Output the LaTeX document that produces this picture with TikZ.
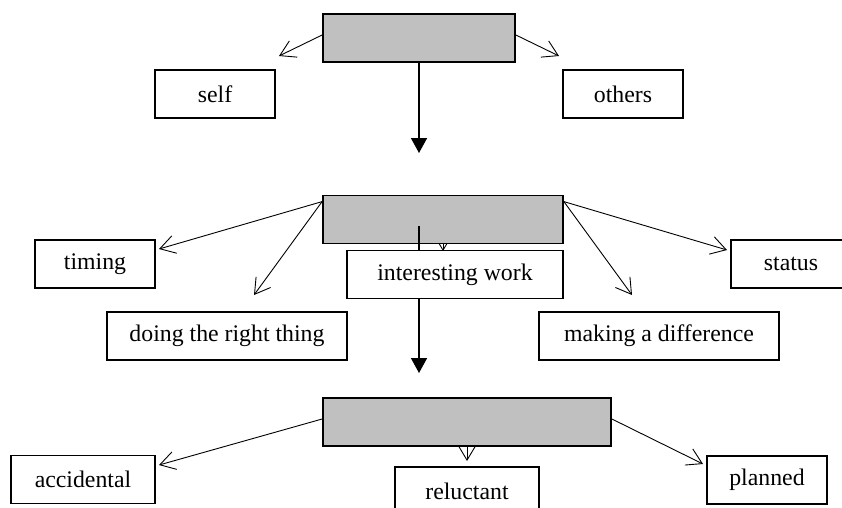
\documentclass[tikz,border=0pt]{standalone}
\usepackage{fontspec}
\setmainfont{Liberation Serif}
\usetikzlibrary{arrows.meta,calc}
\definecolor{hubgray}{RGB}{192,192,192}
\pgfdeclarelayer{paper}
\pgfdeclarelayer{back}
\pgfsetlayers{paper,back,main}
\begin{document}
\begin{tikzpicture}[x=1pt,y=-1pt,
  box/.style={draw=black, line width=1.8pt, fill=white, minimum height=48pt, inner sep=0pt, font=\fontsize{23.8}{28}\selectfont},
  hub/.style={draw=black, line width=1.8pt, fill=hubgray, minimum height=48pt, inner sep=0pt},
  thinarrow/.style={draw=black, line width=0.9pt, -{Straight Barb[length=15pt,width=18pt]}},
  bigarrow/.style={draw=black, line width=1.6pt, -{Triangle[length=15pt,width=16pt]}}
]
\useasboundingbox (0,0) rectangle (842,507);
\clip (0,0) rectangle (842,507);
\begin{pgfonlayer}{paper}
\fill[white] (0,0) rectangle (842,507);
\end{pgfonlayer}

% top level
\node[hub, minimum width=192pt] (top) at (419,38) {};
\node[box, minimum width=120pt] (self) at (215,94) {self};
\node[box, minimum width=120pt] (others) at (623,94) {others};
\coordinate (tl) at (279,56);
\coordinate (tr) at (559,56);
\coordinate (tdown) at (419,153);
\draw[thinarrow] ($(top.west)+(0,-3)$) -- (tl);
\draw[thinarrow] ($(top.east)+(0,-3)$) -- (tr);
\draw[bigarrow] (top.south) -- (tdown);

% middle level
\node[hub, minimum width=240pt] (mid) at (443,219.5) {};
\coordinate (mdownA) at (419,226);
\coordinate (mdownB) at (419,373);
\draw[bigarrow] (mdownA) -- (mdownB);
\node[box, minimum width=120pt] (timing) at (95,264) {timing};
\node[box, minimum width=240pt] (doing) at (227,336) {doing the right thing};
\node[box, minimum width=216pt] (interesting) at (455,274.5) {interesting work};
\node[box, minimum width=120pt] (status) at (791,264) {status};
\node[box, minimum width=240pt] (making) at (659,336) {making a difference};
\coordinate (ml) at ($(mid.north west)+(0,7)$);
\coordinate (mr) at ($(mid.north east)+(0,7)$);
\coordinate (ttiming) at (159,249);
\coordinate (tdoing) at (254,295);
\coordinate (tstatus) at (727,250);
\coordinate (tmaking) at (632,295);
\coordinate (tinter) at (443,251);
\draw[thinarrow] (ml) -- (ttiming);
\draw[thinarrow] (ml) -- (tdoing);
\draw[thinarrow] (mr) -- (tstatus);
\draw[thinarrow] (mr) -- (tmaking);
\begin{pgfonlayer}{back}
\draw[thinarrow] (mid.center) -- (tinter);
\end{pgfonlayer}

% bottom level
\node[hub, minimum width=288pt] (bot) at (467,422) {};
\node[box, minimum width=144pt] (accidental) at (83,479.5) {accidental};
\node[box, minimum width=144pt] (reluctant) at (467,491) {reluctant};
\node[box, minimum width=120pt] (planned) at (767,480) {planned};
\coordinate (tacc) at (159,465);
\coordinate (tplan) at (703,464);
\coordinate (trel) at (467,461);
\draw[thinarrow] ($(bot.west)+(0,-3)$) -- (tacc);
\draw[thinarrow] ($(bot.east)+(0,-3)$) -- (tplan);
\begin{pgfonlayer}{back}
\draw[thinarrow] (bot.center) -- (trel);
\end{pgfonlayer}
\end{tikzpicture}
\end{document}
